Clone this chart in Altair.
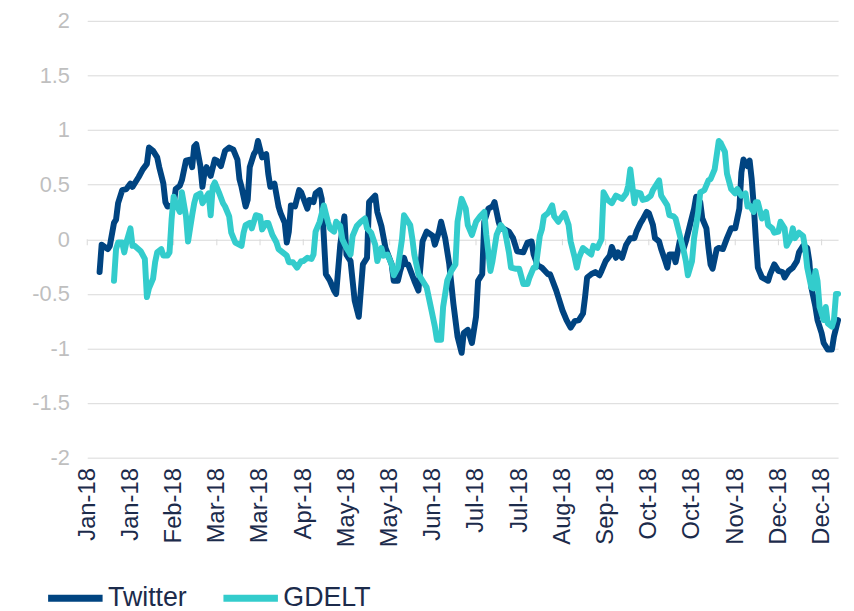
import altair as alt
import pandas as pd

# Days since 2018-01-01 and values
tw_days = [6, 7, 10, 11, 13, 14, 15, 17, 19, 21, 22, 25, 27, 29, 30, 32, 34, 35, 37, 38, 39, 42, 43, 45, 46, 48, 50, 51, 52, 53,
           55, 56, 57, 58, 60, 62, 63, 65, 67, 69, 71, 73, 74, 75, 77, 78, 79, 81, 82, 83, 85, 87, 88, 89, 91, 93, 94, 96, 97, 98,
           99, 101, 103, 104, 107, 108, 110, 111, 113, 114, 116, 118, 120, 121, 123, 125, 126, 127, 128, 130, 132, 134, 136, 137, 140, 141, 143, 145, 148, 149,
           151, 152, 154, 155, 156, 159, 161, 163, 165, 168, 169, 171, 172, 174, 176, 178, 180, 182, 183, 185, 186, 187, 189, 190, 192, 193, 195, 197, 198, 200,
           201, 203, 205, 207, 209, 212, 214, 216, 217, 219, 221, 224, 225, 228, 229, 231, 233, 235, 237, 239, 241, 242, 243, 245, 247, 249, 250, 252, 254, 255,
           257, 258, 260, 262, 264, 266, 267, 269, 270, 272, 273, 275, 276, 278, 279, 281, 282, 283, 285, 286, 288, 290, 291, 293, 295, 296, 298, 299, 301, 302,
           303, 304, 306, 307, 309, 311, 313, 315, 317, 318, 319, 321, 322, 323, 324, 325, 326, 328, 331, 332, 334, 336, 338, 339, 341, 343, 345, 346, 348, 350,
           351, 352, 354, 355, 357, 358, 360, 362, 363, 365]
tw_vals = [-0.30, -0.05, -0.09, -0.06, 0.15, 0.18, 0.33, 0.45, 0.46, 0.51, 0.48, 0.57, 0.64, 0.69, 0.84, 0.81, 0.75, 0.66, 0.51, 0.34, 0.30, 0.31, 0.46, 0.49, 0.54, 0.72, 0.73, 0.66, 0.85, 0.87,
           0.67, 0.48, 0.61, 0.66, 0.58, 0.73, 0.72, 0.67, 0.81, 0.84, 0.82, 0.73, 0.55, 0.48, 0.30, 0.36, 0.66, 0.78, 0.81, 0.90, 0.75, 0.78, 0.60, 0.48, 0.51, 0.30, 0.24, 0.15, -0.03, 0.07,
           0.31, 0.30, 0.45, 0.43, 0.28, 0.36, 0.34, 0.42, 0.45, 0.37, -0.32, -0.38, -0.47, -0.50, -0.05, 0.21, -0.14, -0.17, -0.20, -0.56, -0.71, -0.23, -0.17, 0.34, 0.40, 0.25, 0.12, -0.08, -0.23, -0.38,
           -0.38, -0.30, -0.17, -0.23, -0.23, -0.38, -0.47, -0.02, 0.07, 0.03, -0.05, 0.07, 0.16, 0.01, -0.23, -0.59, -0.89, -1.04, -0.86, -0.83, -0.89, -0.95, -0.71, -0.38, -0.32, 0.16, 0.28, 0.30, 0.34, 0.16,
           0.10, 0.09, 0.07, 0.01, -0.11, -0.12, -0.03, -0.02, -0.14, -0.24, -0.26, -0.32, -0.32, -0.47, -0.53, -0.65, -0.74, -0.81, -0.75, -0.74, -0.68, -0.53, -0.35, -0.32, -0.30, -0.33, -0.29, -0.20, -0.15, -0.07,
           -0.17, -0.12, -0.17, -0.05, 0.01, 0.01, 0.07, 0.15, 0.18, 0.25, 0.24, 0.13, 0.01, -0.02, -0.09, -0.20, -0.26, -0.14, -0.14, -0.21, -0.02, -0.08, -0.02, 0.13, 0.28, 0.39, 0.34, 0.19, 0.10, -0.08,
           -0.23, -0.27, -0.09, -0.08, -0.09, 0.01, 0.10, 0.10, 0.28, 0.61, 0.73, 0.67, 0.72, 0.55, 0.31, 0.01, -0.26, -0.35, -0.38, -0.32, -0.23, -0.29, -0.30, -0.35, -0.29, -0.26, -0.20, -0.12, -0.06, -0.08,
           -0.20, -0.44, -0.62, -0.74, -0.86, -0.95, -1.01, -1.01, -0.89, -0.74]

gd_days = [13, 14, 15, 17, 18, 19, 21, 22, 23, 26, 28, 29, 30, 32, 33, 34, 36, 37, 39, 40, 41, 42, 43, 45, 46, 48, 49, 50, 51, 52,
           53, 55, 56, 58, 59, 60, 61, 62, 64, 66, 67, 69, 70, 72, 75, 76, 77, 79, 80, 82, 84, 85, 87, 88, 90, 92, 93, 95, 97, 98,
           100, 102, 104, 105, 107, 109, 110, 111, 113, 115, 117, 118, 120, 121, 123, 124, 126, 128, 129, 131, 133, 135, 136, 138, 140, 141, 143, 144, 146, 148,
           149, 151, 153, 154, 157, 158, 159, 161, 164, 165, 167, 169, 170, 172, 173, 175, 177, 179, 180, 182, 184, 185, 187, 189, 191, 193, 194, 196, 197, 199,
           201, 203, 205, 206, 208, 210, 212, 214, 215, 217, 218, 220, 221, 222, 224, 226, 227, 229, 230, 232, 234, 235, 237, 238, 239, 241, 243, 245, 246, 248,
           250, 251, 253, 255, 257, 258, 260, 262, 263, 264, 266, 267, 269, 270, 272, 274, 275, 278, 279, 280, 282, 283, 285, 286, 288, 290, 291, 292, 294, 295,
           297, 298, 300, 302, 303, 305, 307, 308, 310, 311, 313, 315, 316, 318, 320, 321, 322, 324, 325, 326, 328, 330, 331, 333, 334, 336, 337, 339, 340, 342,
           343, 344, 346, 348, 349, 350, 352, 353, 354, 355, 356, 358, 359, 360, 362, 363, 364, 365]
gd_vals = [-0.38, -0.09, -0.03, -0.03, -0.12, -0.03, 0.10, -0.06, -0.06, -0.11, -0.18, -0.53, -0.45, -0.36, -0.21, -0.12, -0.09, -0.15, -0.15, -0.12, 0.18, 0.39, 0.33, 0.25, 0.43, 0.21, -0.02, 0.10, 0.22, 0.33,
           0.40, 0.42, 0.33, 0.39, 0.42, 0.22, 0.48, 0.52, 0.43, 0.33, 0.30, 0.21, 0.06, -0.03, -0.06, 0.06, 0.13, 0.15, 0.10, 0.22, 0.21, 0.09, 0.15, 0.15, 0.04, -0.03, -0.09, -0.12, -0.15, -0.21,
           -0.21, -0.26, -0.20, -0.20, -0.17, -0.18, -0.14, 0.07, 0.16, 0.31, 0.16, 0.10, 0.07, 0.16, 0.12, 0.00, -0.08, -0.14, 0.03, 0.12, 0.16, 0.19, 0.10, 0.06, -0.05, -0.20, -0.08, -0.15, -0.14, -0.23,
           -0.33, -0.26, 0.00, 0.22, 0.13, 0.01, -0.14, -0.32, -0.41, -0.44, -0.62, -0.80, -0.92, -0.92, -0.62, -0.38, -0.29, -0.23, 0.16, 0.37, 0.28, 0.13, 0.04, 0.16, 0.21, 0.25, 0.04, -0.29, -0.20, 0.04,
           0.13, 0.08, -0.12, -0.26, -0.27, -0.27, -0.41, -0.41, -0.35, -0.26, -0.26, 0.03, 0.09, 0.21, 0.24, 0.31, 0.21, 0.16, 0.19, 0.24, 0.13, -0.02, -0.17, -0.26, -0.17, -0.08, -0.11, -0.14, -0.06, -0.08,
           0.00, 0.43, 0.36, 0.33, 0.40, 0.39, 0.37, 0.42, 0.49, 0.64, 0.33, 0.43, 0.42, 0.36, 0.37, 0.40, 0.45, 0.54, 0.40, 0.37, 0.31, 0.22, 0.21, 0.19, 0.04, -0.11, -0.20, -0.33, -0.20, 0.01,
           0.25, 0.43, 0.45, 0.54, 0.55, 0.64, 0.90, 0.88, 0.80, 0.60, 0.46, 0.42, 0.46, 0.40, 0.42, 0.30, 0.31, 0.25, 0.34, 0.34, 0.19, 0.25, 0.13, 0.10, 0.06, 0.07, 0.16, 0.10, -0.06, 0.01,
           0.10, 0.01, 0.06, 0.03, -0.08, -0.26, -0.44, -0.45, -0.29, -0.38, -0.62, -0.74, -0.62, -0.77, -0.80, -0.74, -0.50, -0.50]

series_names = ["Twitter", "GDELT"]
series_colors = ["#004481", "#33CCCC"]
tick_days = [0, 21, 42, 63, 84, 105, 126, 147, 168, 189, 210, 231, 252, 273, 294, 315, 336, 357]
y_ticks = [-2, -1.5, -1, -0.5, 0, 0.5, 1, 1.5, 2]

base = pd.Timestamp("2018-01-01", tz="UTC")


def to_iso(d):
    return (base + pd.Timedelta(days=d)).strftime("%Y-%m-%dT00:00:00Z")


def to_ms(d):
    return int((base + pd.Timedelta(days=d)).timestamp() * 1000)


rows = []
for name, days, vals in [("Twitter", tw_days, tw_vals), ("GDELT", gd_days, gd_vals)]:
    for d, v in zip(days, vals):
        rows.append({"date": to_iso(d), "value": v, "series": name})
df = pd.DataFrame(rows)
ticks_df = pd.DataFrame({"date": [to_iso(d) for d in tick_days]})

x_scale = alt.Scale(type="utc", domain=[to_ms(0), to_ms(365)])
y_scale = alt.Scale(domain=[-2, 2], nice=False, zero=False)

lines = alt.Chart(df).mark_line(strokeWidth=6, strokeCap="round", strokeJoin="round").encode(
    x=alt.X("date:T", scale=x_scale,
            axis=alt.Axis(values=[to_ms(d) for d in tick_days],
                          labelExpr="utcFormat(datum.value, '%b-%y')",
                          labelAngle=270, labelFontSize=24, labelColor="#1c2b4b",
                          labelFont="Liberation Sans", labelPadding=10,
                          grid=False, domain=False, ticks=False, title=None)),
    y=alt.Y("value:Q", scale=y_scale,
            axis=alt.Axis(values=y_ticks, labelExpr="'' + datum.value",
                          labelFontSize=22, labelColor="#BFBFBF", labelFont="Liberation Sans",
                          labelPadding=18, grid=True, gridColor="#D9D9D9", gridWidth=1,
                          domain=False, ticks=False, title=None, minExtent=75, maxExtent=75)),
    color=alt.Color("series:N", scale=alt.Scale(domain=series_names, range=series_colors),
                    sort=series_names,
                    legend=alt.Legend(title=None, orient="none", legendX=-43, legendY=552,
                                      direction="horizontal", symbolType="stroke",
                                      symbolSize=3025, symbolStrokeWidth=7,
                                      labelFontSize=27, labelColor="#1c2b4b",
                                      labelFont="Liberation Sans", labelOffset=2,
                                      columnPadding=22)),
)

tickmarks = alt.Chart(ticks_df).mark_rule(color="#D9D9D9", strokeWidth=1).encode(
    x=alt.X("date:T", scale=x_scale),
    y=alt.datum(0),
    y2=alt.datum(-0.055),
)

chart = alt.layer(tickmarks, lines).properties(
    width=758, height=441,
    autosize=alt.AutoSizeParams(type="none"),
    padding={"left": 80, "top": 10, "right": 8, "bottom": 170},
).configure_view(strokeWidth=0)

chart.save("out.html", embed_options={"renderer": "svg", "actions": False})
